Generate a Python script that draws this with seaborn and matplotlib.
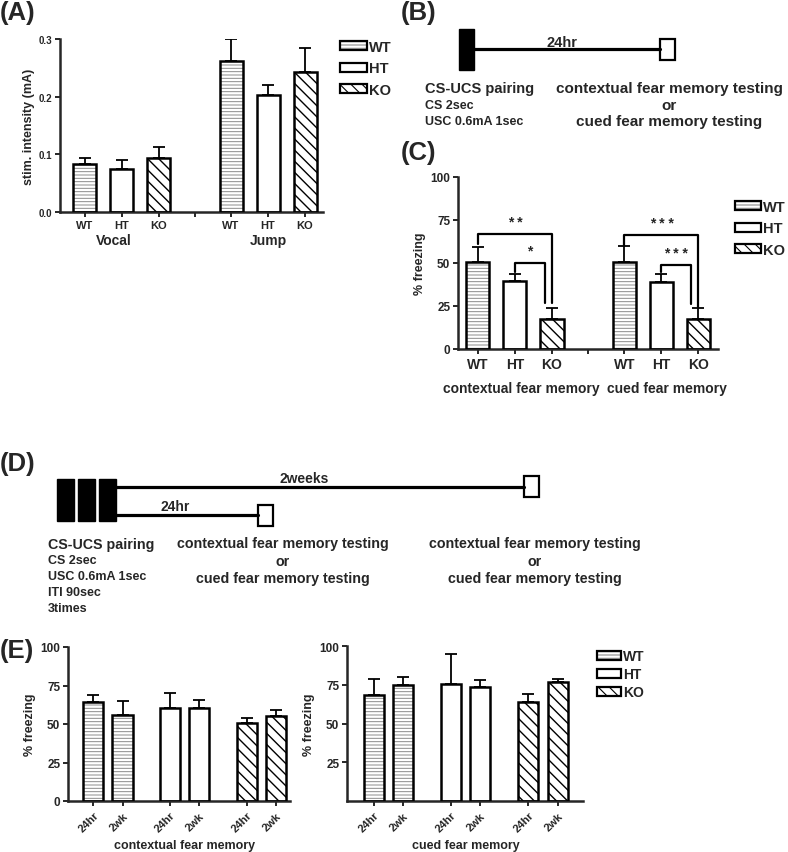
import numpy as np
import pandas as pd
import seaborn as sns
import matplotlib.pyplot as plt
from matplotlib.patches import Rectangle, Patch
from matplotlib.transforms import blended_transform_factory

W, H = 788, 853

# ---- data ----
genotypes = ["WT", "HT", "KO"]

# (A) stimulus intensity (mA)
a_groups = ["Vocal", "Jump"]
a_vocal_mean = [0.084, 0.075, 0.093]
a_vocal_sem = [0.010, 0.015, 0.020]
a_jump_mean = [0.262, 0.203, 0.243]
a_jump_sem = [0.038, 0.018, 0.041]

# (C) % freezing, 24hr after single pairing
c_groups = ["contextual fear memory", "cued fear memory"]
c_context_mean = [50.3, 39.3, 17.4]
c_context_sem = [9.2, 4.4, 6.4]
c_cued_mean = [50.3, 39.1, 17.4]
c_cued_sem = [9.3, 4.5, 6.5]
# group, from, to, bar height, left end, right end, label
c_brackets = [
    ("contextual fear memory", "WT", "KO", 67, 61, 26.5, "* *"),
    ("contextual fear memory", "HT", "KO", 50, 45, 26.5, "*"),
    ("cued fear memory", "WT", "KO", 66, 60, 24.5, "* * *"),
    ("cued fear memory", "HT", "KO", 49, 45, 26.0, "* * *"),
]

# (E) % freezing after 3 pairings
e_times = ["24hr", "2wk"]
e_context_24hr = [64.4, 60.4, 50.6]
e_context_24hr_sem = [4.7, 9.6, 3.2]
e_context_2wk = [56.1, 60.5, 55.0]
e_context_2wk_sem = [8.9, 5.4, 4.1]
e_cued_24hr = [68.2, 75.3, 63.6]
e_cued_24hr_sem = [10.6, 19.5, 5.4]
e_cued_2wk = [74.7, 73.4, 76.6]
e_cued_2wk_sem = [5.3, 4.6, 2.0]

HATCHES = {"WT": "-----", "HT": "", "KO": "\\\\\\"}
HATCH_COLOR = {"WT": "#8a8a8a", "HT": "black", "KO": "black"}
HATCH_LW = {"WT": 0.7, "HT": 0.7, "KO": 1.0}

sns.set_style("ticks")
plt.rcParams["font.family"] = ["Liberation Sans", "DejaVu Sans"]
plt.rcParams["font.weight"] = "bold"
plt.rcParams["axes.labelweight"] = "bold"
plt.rcParams["hatch.linewidth"] = 0.8

fig = plt.figure(figsize=(W / 100, H / 100), dpi=100)


def rect(x0, y0, x1, y1):
    return [x0 / W, 1 - y1 / H, (x1 - x0) / W, (y1 - y0) / H]


def long_df(means, sems, col_x, col_hue, x_levels, hue_levels, geno_is_x):
    rows = []
    for gi, g in enumerate(x_levels):
        for hi, h in enumerate(hue_levels):
            i, j = (hi, gi) if geno_is_x else (gi, hi)
            rows.append({col_x: g, col_hue: h, "value": means[i][j], "sem": sems[i][j],
                         "genotype": g if geno_is_x else h})
    return pd.DataFrame(rows)


def draw_bars(ax, df, x, hue, x_order, hue_order, width, gap, lw=1.8):
    sns.barplot(data=df, x=x, y="value", hue=hue, order=x_order, hue_order=hue_order,
                palette={h: "white" for h in hue_order}, width=width, gap=gap,
                errorbar=None, saturation=1, linewidth=0, legend=False, ax=ax)
    n = len(hue_order)
    each = width / n
    offsets = (np.arange(n) - (n - 1) / 2) * each
    centers = {}
    for p in list(ax.patches):
        cx = p.get_x() + p.get_width() / 2
        gi = int(round(cx))
        hi = int(np.argmin(np.abs(cx - gi - offsets)))
        row = df[(df[x] == x_order[gi]) & (df[hue] == hue_order[hi])].iloc[0]
        geno = row["genotype"]
        p.set_hatch(HATCHES[geno])
        p.set_edgecolor(HATCH_COLOR[geno])
        if hasattr(p, "set_hatch_linewidth"):
            p.set_hatch_linewidth(HATCH_LW[geno])
        # black outline on top of the (grey) hatching
        ax.add_patch(Rectangle(p.get_xy(), p.get_width(), p.get_height(), fill=False,
                               edgecolor="black", linewidth=lw, zorder=3))
        ax.errorbar([cx], [row["value"]], yerr=[[0], [row["sem"]]], fmt="none", ecolor="black",
                    elinewidth=1.3, capsize=4.5, capthick=1.3, zorder=2.5)
        centers[(x_order[gi], hue_order[hi])] = cx
    return centers


def style(ax, ysize):
    sns.despine(ax=ax)
    for s in ["left", "bottom"]:
        ax.spines[s].set_linewidth(1.8)
    ax.tick_params(direction="out", length=3.5, width=1.4, pad=2)
    ax.tick_params(axis="y", labelsize=ysize)
    ax.set_xlabel("")


def add_legend(ax, x, y_top, fontsize, spacing, hl, hh):
    handles = [(Patch(facecolor="white", edgecolor=HATCH_COLOR[g], hatch=HATCHES[g], lw=0),
                Patch(fill=False, edgecolor="black", lw=1.6)) for g in genotypes]
    ax.legend(handles, genotypes, loc="upper left", bbox_to_anchor=(x / W, 1 - y_top / H),
              bbox_transform=fig.transFigure, frameon=False, borderpad=0, borderaxespad=0,
              handlelength=hl, handleheight=hh, handletextpad=0.15, labelspacing=spacing,
              fontsize=fontsize)


def group_ticks(ax, centers, size):
    ticks, labels = [], []
    for (g, h), cx in sorted(centers.items(), key=lambda kv: kv[1]):
        ticks.append(cx)
        labels.append(h)
    ticks.append(0.5)
    labels.append("")
    ax.set_xticks(ticks, labels)
    ax.tick_params(axis="x", labelsize=size)


# background axes for schematics and panel letters (pixel coordinates)
bg = fig.add_axes([0, 0, 1, 1])
bg.set_xlim(0, W)
bg.set_ylim(H, 0)
bg.axis("off")

for letter, lx, ly in [("(A)", 0, 13), ("(B)", 401, 13), ("(C)", 401, 153), ("(D)", 0, 464), ("(E)", 0, 651)]:
    bg.text(lx, ly, letter, fontsize=18.5, ha="left", va="center")

# ---- (A) ----
axA = fig.add_axes(rect(60, 40, 323, 213))
dfA = long_df([a_vocal_mean, a_jump_mean], [a_vocal_sem, a_jump_sem],
              "group", "genotype", a_groups, genotypes, False)
cA = draw_bars(axA, dfA, "group", "genotype", a_groups, genotypes, 0.758, 0.378)
axA.set_xlim(-0.42, 1.375)
axA.set_ylim(0, 0.3)
axA.set_yticks([0.0, 0.1, 0.2, 0.3])
axA.set_ylabel("stim. intensity (mA)", fontsize=9, labelpad=3)
style(axA, 7)
group_ticks(axA, cA, 8)
trA = blended_transform_factory(axA.transData, fig.transFigure)
for gi, g in enumerate(a_groups):
    axA.text(gi - 0.05 * (gi == 0), 1 - 241 / H, g, transform=trA, ha="center", va="center", fontsize=10)
add_legend(axA, 340, 41, 10.5, 0.5, 1.85, 0.6)

# ---- (B) schematic ----
bg.add_patch(Rectangle((459, 30), 15, 41, color="black"))
bg.plot([474, 660], [50, 50], color="black", lw=2.3)
bg.add_patch(Rectangle((660, 40), 15, 21, facecolor="white", edgecolor="black", lw=1.6))
bg.text(562, 43, "24hr", ha="center", va="center", fontsize=10.5)
bg.text(425, 89, "CS-UCS pairing", ha="left", va="center", fontsize=10.5)
bg.text(425, 106, "CS 2sec", ha="left", va="center", fontsize=9)
bg.text(425, 122, "USC 0.6mA 1sec", ha="left", va="center", fontsize=9)
for txt, ty in [("contextual fear memory testing", 89), ("or", 106), ("cued fear memory testing", 122)]:
    bg.text(669, ty, txt, ha="center", va="center", fontsize=11)

# ---- (C) ----
axC = fig.add_axes(rect(458, 178, 718, 350))
dfC = long_df([c_context_mean, c_cued_mean], [c_context_sem, c_cued_sem],
              "group", "genotype", c_groups, genotypes, False)
cC = draw_bars(axC, dfC, "group", "genotype", c_groups, genotypes, 0.758, 0.378)
axC.set_xlim(-0.389, 1.386)
axC.set_ylim(0, 100)
axC.set_yticks([0, 25, 50, 75, 100])
axC.set_ylabel("% freezing", fontsize=9, labelpad=3)
style(axC, 8.5)
group_ticks(axC, cC, 10)
trC = blended_transform_factory(axC.transData, fig.transFigure)
for gi, g in enumerate(c_groups):
    axC.text(gi + 0.04, 1 - 389 / H, g, transform=trC, ha="center", va="center", fontsize=10)
for g, a, b, y, ya, yb, lab in c_brackets:
    xa = cC[(g, a)]
    xb = cC[(g, b)] - (0.05 if a == "HT" else 0)
    axC.plot([xa, xa, xb, xb], [ya, y, y, yb], color="black", lw=1.6, zorder=4)
    axC.text((xa + xb) / 2, y + 7, lab, ha="center", va="center", fontsize=10)
add_legend(axC, 735, 201, 10.5, 0.5, 1.75, 0.6)

# ---- (D) schematic ----
for bx in [57, 78, 99]:
    bg.add_patch(Rectangle((bx, 480), 17, 42, color="black"))
bg.plot([115, 524], [488, 488], color="black", lw=2.3)
bg.add_patch(Rectangle((524, 477), 15, 21, facecolor="white", edgecolor="black", lw=1.6))
bg.plot([115, 258], [516, 516], color="black", lw=2.3)
bg.add_patch(Rectangle((258, 506), 15, 21, facecolor="white", edgecolor="black", lw=1.6))
bg.text(304, 479, "2weeks", ha="center", va="center", fontsize=10)
bg.text(175, 507, "24hr", ha="center", va="center", fontsize=10)
bg.text(48, 545, "CS-UCS pairing", ha="left", va="center", fontsize=10.3)
for txt, ty in [("CS 2sec", 561), ("USC 0.6mA 1sec", 577), ("ITI 90sec", 593), ("3times", 609)]:
    bg.text(48, ty, txt, ha="left", va="center", fontsize=9)
for cx in [283, 535]:
    for txt, ty in [("contextual fear memory testing", 544), ("or", 562), ("cued fear memory testing", 579)]:
        bg.text(cx, ty, txt, ha="center", va="center", fontsize=10.3)

# ---- (E) ----
e_panels = [
    (rect(68, 648, 290, 802), [e_context_24hr, e_context_2wk], [e_context_24hr_sem, e_context_2wk_sem],
     "contextual fear memory", (-0.521, 2.371), [0, 25, 50, 75, 100]),
    (rect(347, 647, 583, 802), [e_cued_24hr, e_cued_2wk], [e_cued_24hr_sem, e_cued_2wk_sem],
     "cued fear memory", (-0.537, 2.518), [25, 50, 75, 100]),
]
for r, means, sems, title, xl, yt in e_panels:
    ax = fig.add_axes(r)
    dfE = long_df(means, sems, "genotype_x", "time", genotypes, e_times, True)
    cE = draw_bars(ax, dfE, "genotype_x", "time", genotypes, e_times, 0.756, 0.31)
    ax.set_xlim(*xl)
    ax.set_ylim(0, 100)
    ax.set_yticks(yt)
    ax.set_ylabel("% freezing", fontsize=9, labelpad=3)
    style(ax, 8.5)
    items = sorted(cE.items(), key=lambda kv: kv[1])
    ax.set_xticks([v for _, v in items], [k[1] for k, _ in items])
    ax.tick_params(axis="x", labelsize=8, pad=3)
    for t in ax.get_xticklabels():
        t.set_rotation(45)
        t.set_ha("right")
        t.set_rotation_mode("anchor")
    tr = blended_transform_factory(ax.transData, fig.transFigure)
    ax.text(1.0, 1 - 846 / H, title, transform=tr, ha="center", va="center", fontsize=9)
    if title.startswith("cued"):
        add_legend(ax, 597, 650, 10, 0.3, 1.7, 0.6)

fig.savefig("out.png", dpi=100)
